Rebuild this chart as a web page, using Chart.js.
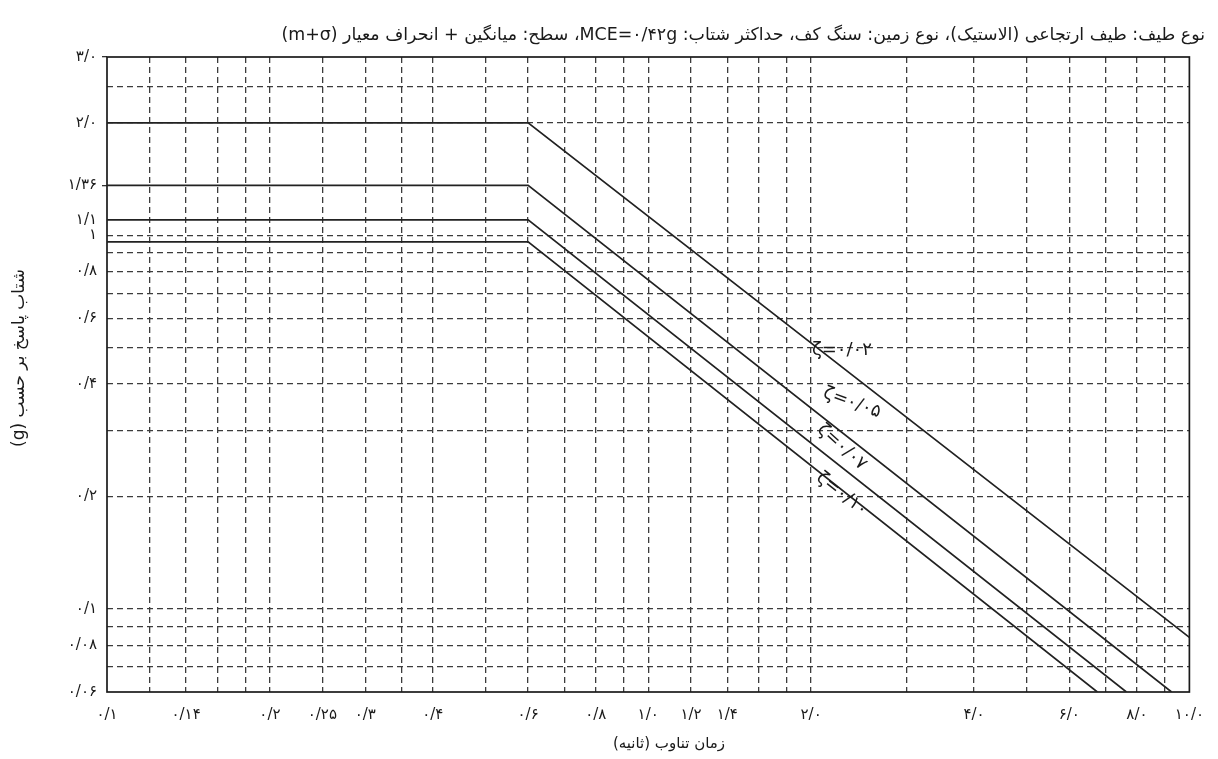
<!DOCTYPE html>
<html><head><meta charset="utf-8">
<script src="https://cdn.jsdelivr.net/npm/chart.js@4.4.1/dist/chart.umd.min.js"></script>
<style>html,body{margin:0;padding:0;background:#fff}#wrap{width:1218px;height:759px;position:relative}</style>
</head><body><div id="wrap"><canvas id="c" width="1218" height="759"></canvas></div>
<script>
// ---- data ----
const periods002 = [0.1, 0.6, 10];
const accel002   = [2.0, 2.0, 0.084];
const periods005 = [0.1, 0.6, 9.27];
const accel005   = [1.36, 1.36, 0.06];
const periods007 = [0.1, 0.6, 7.65];
const accel007   = [1.1, 1.1, 0.06];
const periods010 = [0.1, 0.6, 6.76];
const accel010   = [0.96, 0.96, 0.06];
const dampingLabels = ['ζ=۰/۰۲', 'ζ=۰/۰۵', 'ζ=۰/۰۷', 'ζ=۰/۱۰'];

const xTickValues = [0.1, 0.14, 0.2, 0.25, 0.3, 0.4, 0.6, 0.8, 1.0, 1.2, 1.4, 2.0, 4.0, 6.0, 8.0, 10.0];
const xTickLabels = ['۰/۱','۰/۱۴','۰/۲','۰/۲۵','۰/۳','۰/۴','۰/۶','۰/۸','۱/۰','۱/۲','۱/۴','۲/۰','۴/۰','۶/۰','۸/۰','۱۰/۰'];
const xGridValues = [0.12,0.14,0.16,0.18,0.2,0.25,0.3,0.35,0.4,0.5,0.6,0.7,0.8,0.9,1.0,1.2,1.4,1.6,1.8,2,3,4,5,6,7,8,9];
const yTickValues = [3.0, 2.0, 1.36, 1.1, 1.0, 0.8, 0.6, 0.4, 0.2, 0.1, 0.08, 0.06];
const yTickLabels = ['۳/۰','۲/۰','۱/۳۶','۱/۱','۱','۰/۸','۰/۶','۰/۴','۰/۲','۰/۱','۰/۰۸','۰/۰۶'];
const yGridValues = [2.5, 2.0, 1.0, 0.9, 0.8, 0.7, 0.6, 0.5, 0.4, 0.3, 0.2, 0.1, 0.09, 0.08, 0.07];
const yTickMarkValues = [3.0, 1.36];

const titleText = 'نوع طیف: طیف ارتجاعی (الاستیک)، نوع زمین: سنگ کف، حداکثر شتاب: MCE=۰/۴۲g، سطح: میانگین + انحراف معیار (m+σ)';
const xTitle = 'زمان تناوب (ثانیه)';
const yTitle = 'شتاب پاسخ بر حسب (g)';

// label anchors (in data units) for the damping annotations
const dampingLabelAnchors = [
  {t: 2.28, a: 0.493, angle: 0},
  {t: 2.38, a: 0.356, angle: 20},
  {t: 2.28, a: 0.271, angle: 42},
  {t: 2.28, a: 0.203, angle: 38}
];

const idx = (arr, v) => arr.findIndex(a => Math.abs(a - v) < 1e-6 * Math.max(a, v));
const toPts = (ts, as) => ts.map((t, i) => ({x: t, y: as[i]}));
const lineStyle = {showLine: true, pointRadius: 0, borderColor: '#222', borderWidth: 1.7, tension: 0, fill: false};
const FONT = '"DejaVu Sans", sans-serif';

const extras = {
  id: 'extras',
  beforeDatasetsDraw(chart) {
    const {ctx, chartArea: a} = chart;
    ctx.save();
    ctx.setLineDash([]);
    ctx.strokeStyle = '#1a1a1a';
    ctx.lineWidth = 1.7;
    ctx.strokeRect(a.left, a.top, a.right - a.left, a.bottom - a.top);
    ctx.restore();
  },
  afterDraw(chart) {
    const {ctx, chartArea: a, scales} = chart;
    ctx.save();
    ctx.fillStyle = '#1a1a1a';
    ctx.direction = 'rtl';
    ctx.textBaseline = 'middle';
    ctx.font = '17.4px ' + FONT;
    ctx.textAlign = 'right';
    ctx.fillText(titleText, 1205, 35);
    ctx.font = '15px ' + FONT;
    ctx.textAlign = 'center';
    ctx.fillText(xTitle, 669, 744);
    ctx.save();
    ctx.font = '17px ' + FONT;
    ctx.translate(20, 358);
    ctx.rotate(-Math.PI / 2);
    ctx.fillText(yTitle, 0, 0);
    ctx.restore();
    ctx.direction = 'ltr';
    ctx.font = '18px ' + FONT;
    dampingLabelAnchors.forEach((p, i) => {
      const x = scales.x.getPixelForValue(p.t);
      const y = scales.y.getPixelForValue(p.a);
      ctx.save();
      ctx.translate(x, y);
      ctx.rotate(p.angle * Math.PI / 180);
      ctx.fillText(dampingLabels[i], 0, 0);
      ctx.restore();
    });
    ctx.restore();
  }
};

new Chart(document.getElementById('c'), {
  type: 'scatter',
  data: {
    datasets: [
      Object.assign({label: dampingLabels[0], data: toPts(periods002, accel002)}, lineStyle),
      Object.assign({label: dampingLabels[1], data: toPts(periods005, accel005)}, lineStyle),
      Object.assign({label: dampingLabels[2], data: toPts(periods007, accel007)}, lineStyle),
      Object.assign({label: dampingLabels[3], data: toPts(periods010, accel010)}, lineStyle)
    ]
  },
  options: {
    responsive: false,
    animation: false,
    devicePixelRatio: 1,
    layout: {padding: {left: 0, top: 57, right: 28, bottom: 0}},
    plugins: {legend: {display: false}, tooltip: {enabled: false}, title: {display: false}},
    scales: {
      x: {
        type: 'logarithmic', min: 0.1, max: 10,
        afterBuildTicks: s => { s.ticks = xTickValues.concat(xGridValues.filter(v => idx(xTickValues, v) < 0)).sort((p, q) => p - q).map(v => ({value: v})); },
        afterFit: s => { s.height = 67; },
        ticks: {
          autoSkip: false, maxRotation: 0, minRotation: 0, padding: 14, color: '#1a1a1a',
          font: {family: FONT, size: 15},
          callback: v => { const i = idx(xTickValues, v); return i >= 0 ? xTickLabels[i] : ''; }
        },
        grid: {
          drawTicks: false,
          lineWidth: 1.3,
          color: c => (c.tick && idx(xGridValues, c.tick.value) >= 0) ? '#3c3c3c' : 'rgba(0,0,0,0)'
        },
        border: {display: false, dash: [6, 4]}
      },
      y: {
        type: 'logarithmic', min: 0.06, max: 3.0,
        afterBuildTicks: s => { s.ticks = yTickValues.concat(yGridValues.filter(v => idx(yTickValues, v) < 0)).sort((p, q) => p - q).map(v => ({value: v})); },
        afterFit: s => { s.width = 107; },
        ticks: {
          autoSkip: false, padding: 5, color: '#1a1a1a',
          font: {family: FONT, size: 15},
          callback: v => { const i = idx(yTickValues, v); return i >= 0 ? yTickLabels[i] : ''; }
        },
        grid: {
          drawTicks: true, tickLength: 5, lineWidth: 1.3,
          tickColor: c => (c.tick && idx(yTickMarkValues, c.tick.value) >= 0) ? '#333' : 'rgba(0,0,0,0)',
          color: c => (c.tick && idx(yGridValues, c.tick.value) >= 0) ? '#3c3c3c' : 'rgba(0,0,0,0)'
        },
        border: {display: false, dash: [6, 4]}
      }
    }
  },
  plugins: [extras]
});
</script></body></html>
